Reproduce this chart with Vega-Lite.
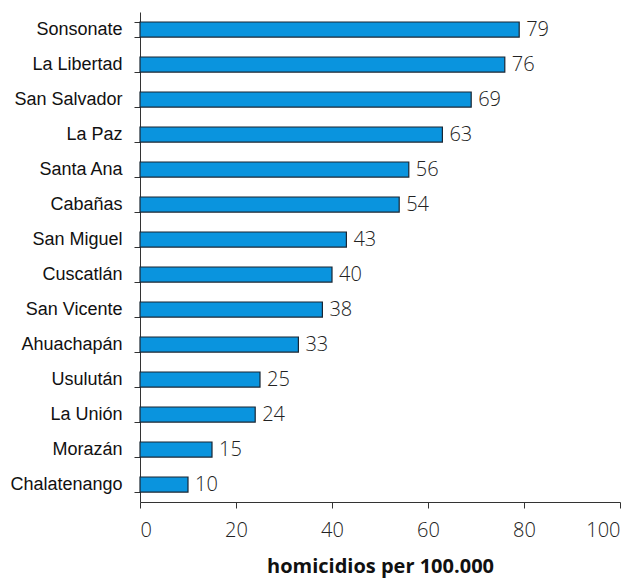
{
  "$schema": "https://vega.github.io/schema/vega-lite/v6.json",
  "width": 480,
  "height": 490,
  "autosize": "none",
  "padding": {"left": 140, "top": 12, "right": 20, "bottom": 77},
  "background": "white",
  "data": {"values": [
    {"dept": "Sonsonate", "value": 79},
    {"dept": "La Libertad", "value": 76},
    {"dept": "San Salvador", "value": 69},
    {"dept": "La Paz", "value": 63},
    {"dept": "Santa Ana", "value": 56},
    {"dept": "Cabañas", "value": 54},
    {"dept": "San Miguel", "value": 43},
    {"dept": "Cuscatlán", "value": 40},
    {"dept": "San Vicente", "value": 38},
    {"dept": "Ahuachapán", "value": 33},
    {"dept": "Usulután", "value": 25},
    {"dept": "La Unión", "value": 24},
    {"dept": "Morazán", "value": 15},
    {"dept": "Chalatenango", "value": 10}
  ]},
  "encoding": {
    "y": {
      "field": "dept", "type": "nominal", "sort": null,
      "scale": {"paddingInner": 0.57, "paddingOuter": 0.285},
      "axis": {
        "title": null, "tickBand": "extent", "domainColor": "#333", "tickColor": "#333",
        "tickSize": 6, "labelFont": "Liberation Sans", "labelFontSize": 18,
        "labelColor": "#111", "labelPadding": 12
      }
    },
    "x": {
      "field": "value", "type": "quantitative",
      "scale": {"domain": [0, 100]},
      "axis": {
        "title": "homicidios per 100.000", "values": [0, 20, 40, 60, 80, 100],
        "grid": false, "domainColor": "#333", "tickColor": "#333", "tickSize": 6,
        "labelFont": "Open Sans", "labelFontWeight": 300, "labelFontSize": 20,
        "labelColor": "#222", "labelPadding": 12,
        "titleFont": "Open Sans", "titleFontWeight": "bold", "titleFontSize": 20,
        "titleColor": "#111", "titlePadding": 16
      }
    }
  },
  "layer": [
    {"mark": {"type": "bar", "color": "#0A94DE", "stroke": "#1a2633", "strokeWidth": 1.2}},
    {"mark": {"type": "text", "align": "left", "baseline": "middle", "dx": 7,
      "font": "Open Sans", "fontWeight": 300, "fontSize": 20, "color": "#222"},
     "encoding": {"text": {"field": "value", "type": "quantitative"}}}
  ],
  "config": {"view": {"stroke": null}}
}
